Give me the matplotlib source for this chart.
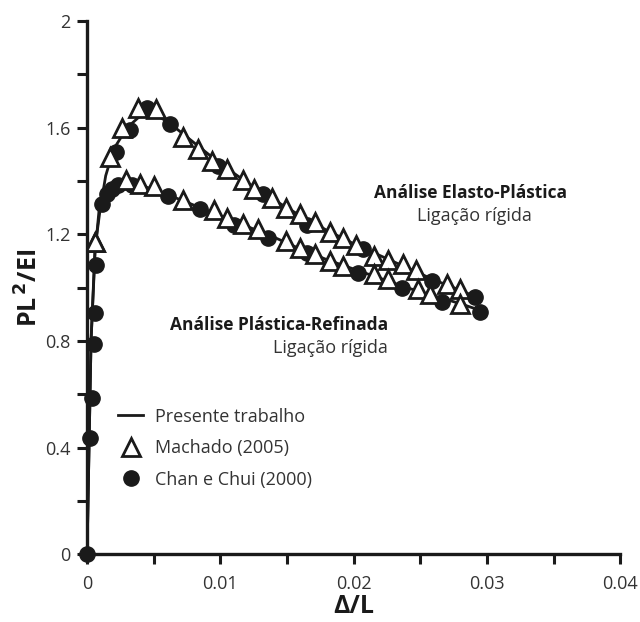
import matplotlib
matplotlib.use("Agg")
import matplotlib.pyplot as plt
from matplotlib.ticker import MultipleLocator, FixedLocator

plt.rcParams['font.family'] = ['Open Sans', 'DejaVu Sans']

# ---- Data ----
# Presente trabalho - Elasto-Plastic (upper)
ep_line_x = [0, 0.0003, 0.0006, 0.0010, 0.0014, 0.0020, 0.0030, 0.0040, 0.0050, 0.0060,
             0.0080, 0.0100, 0.0120, 0.0140, 0.0160, 0.0180, 0.0200, 0.0220, 0.0240,
             0.0260, 0.0280, 0.0292]
ep_line_y = [0, 0.80, 1.15, 1.30, 1.42, 1.52, 1.60, 1.645, 1.65, 1.625,
             1.545, 1.465, 1.395, 1.33, 1.27, 1.215, 1.165, 1.12, 1.075,
             1.03, 0.99, 0.965]
# Presente trabalho - Plastic refined (lower)
pr_line_x = [0, 0.0003, 0.0006, 0.0009, 0.0013, 0.0020, 0.0030, 0.0040, 0.0060,
             0.0080, 0.0100, 0.0120, 0.0140, 0.0160, 0.0180, 0.0200, 0.0220,
             0.0240, 0.0260, 0.0280, 0.0295]
pr_line_y = [0, 0.80, 1.13, 1.29, 1.34, 1.375, 1.39, 1.385, 1.35,
             1.31, 1.27, 1.23, 1.19, 1.145, 1.105, 1.07, 1.035,
             1.00, 0.97, 0.94, 0.915]

# Machado (2005) - triangles
ep_tri_x = [0.0006, 0.0017, 0.0026, 0.0038, 0.0052, 0.0072, 0.0083, 0.0094, 0.0105,
            0.0117, 0.0125, 0.0139, 0.0149, 0.0160, 0.0171, 0.0182, 0.0192, 0.0202,
            0.0215, 0.0226, 0.0237, 0.0247, 0.0270, 0.0280]
ep_tri_y = [1.17, 1.49, 1.60, 1.675, 1.67, 1.565, 1.52, 1.475, 1.445,
            1.405, 1.37, 1.335, 1.30, 1.275, 1.245, 1.21, 1.185, 1.16,
            1.12, 1.105, 1.09, 1.065, 1.015, 0.995]
pr_tri_x = [0.0006, 0.0029, 0.0040, 0.0050, 0.0072, 0.0095, 0.0105, 0.0117, 0.0128,
            0.0149, 0.0160, 0.0171, 0.0182, 0.0192, 0.0215, 0.0226, 0.0248, 0.0257,
            0.0280]
pr_tri_y = [1.17, 1.405, 1.39, 1.38, 1.33, 1.29, 1.26, 1.24, 1.22,
            1.175, 1.148, 1.128, 1.10, 1.082, 1.05, 1.033, 0.995, 0.975,
            0.94]

# Chan e Chui (2000) - circles
ep_cir_x = [0.0022, 0.0032, 0.0045, 0.0062, 0.0098, 0.0132, 0.0165, 0.0207, 0.0259, 0.0291]
ep_cir_y = [1.51, 1.59, 1.675, 1.615, 1.455, 1.35, 1.235, 1.145, 1.025, 0.965]
pr_cir_x = [0.0, 0.0002, 0.0004, 0.0005, 0.0006, 0.0007, 0.0011, 0.0015, 0.0019, 0.0023,
            0.0034, 0.0061, 0.0085, 0.0110, 0.0136, 0.0165, 0.0203, 0.0236, 0.0266, 0.0295]
pr_cir_y = [0.0, 0.435, 0.585, 0.79, 0.905, 1.085, 1.315, 1.35, 1.37, 1.385,
            1.385, 1.345, 1.295, 1.235, 1.185, 1.13, 1.055, 1.0, 0.945, 0.91]

x_ticks = [0, 0.01, 0.02, 0.03, 0.04]
x_tick_labels = ['0', '0.01', '0.02', '0.03', '0.04']
y_ticks = [0, 0.4, 0.8, 1.2, 1.6, 2]
y_tick_labels = ['0', '0.4', '0.8', '1.2', '1.6', '2']

# ---- Figure ----
fig = plt.figure(figsize=(6.4, 6.22), dpi=100)
ax = fig.add_axes([0.136, 0.109, 0.833, 0.857])

lc = '#1a1a1a'
ln, = ax.plot(ep_line_x, ep_line_y, color=lc, lw=2.0, zorder=2, label='Presente trabalho')
ax.plot(pr_line_x, pr_line_y, color=lc, lw=2.0, zorder=2)

ci, = ax.plot(ep_cir_x, ep_cir_y, 'o', ms=11, color=lc, mec=lc, zorder=3,
              label='Chan e Chui (2000)', clip_on=False)
ax.plot(pr_cir_x, pr_cir_y, 'o', ms=11, color=lc, mec=lc, zorder=3, clip_on=False)

tr, = ax.plot(ep_tri_x, ep_tri_y, '^', ms=13, mfc='white', mec=lc, mew=2.0, zorder=4,
              label='Machado (2005)')
ax.plot(pr_tri_x, pr_tri_y, '^', ms=13, mfc='white', mec=lc, mew=2.0, zorder=4)

ax.set_xlim(0, 0.04)
ax.set_ylim(0, 2)
for s in ['top', 'right']:
    ax.spines[s].set_visible(False)
for s in ['left', 'bottom']:
    ax.spines[s].set_linewidth(2.4)
    ax.spines[s].set_color(lc)

ax.xaxis.set_major_locator(FixedLocator(x_ticks))
ax.set_xticklabels(x_tick_labels)
ax.xaxis.set_minor_locator(MultipleLocator(0.005))
ax.yaxis.set_major_locator(FixedLocator(y_ticks))
ax.set_yticklabels(y_tick_labels)
ax.yaxis.set_minor_locator(MultipleLocator(0.2))
ax.tick_params(which='both', direction='out', length=7, width=2.2, color=lc,
               labelsize=13, labelcolor='#333333')
ax.tick_params(axis='x', which='both', pad=8)
ax.tick_params(axis='y', which='both', pad=5)

ax.set_xlabel('Δ/L', fontsize=18, fontweight='bold', color=lc, labelpad=1)
ax.set_ylabel('PL$^{\\,\\mathbf{2}}$/EI', fontsize=18, fontweight='bold', color=lc, labelpad=1)

# annotations
ax.text(0.0288, 1.355, 'Análise Elasto-Plástica', fontsize=12.5, fontweight='bold',
        ha='center', va='center', color=lc)
ax.text(0.0291, 1.27, 'Ligação rígida', fontsize=13, ha='center', va='center', color='#333333')
ax.text(0.0226, 0.86, 'Análise Plástica-Refinada', fontsize=12.5, fontweight='bold',
        ha='right', va='center', color=lc)
ax.text(0.0226, 0.773, 'Ligação rígida', fontsize=13, ha='right', va='center', color='#333333')

leg = ax.legend(handles=[ln, tr, ci], loc='upper left', bbox_to_anchor=(0.058, 0.275),
                frameon=False, fontsize=13, handlelength=1.4, handletextpad=0.66,
                labelspacing=0.75, borderaxespad=0, borderpad=0)
for t in leg.get_texts():
    t.set_color('#333333')

fig.savefig('out.png', dpi=100)
